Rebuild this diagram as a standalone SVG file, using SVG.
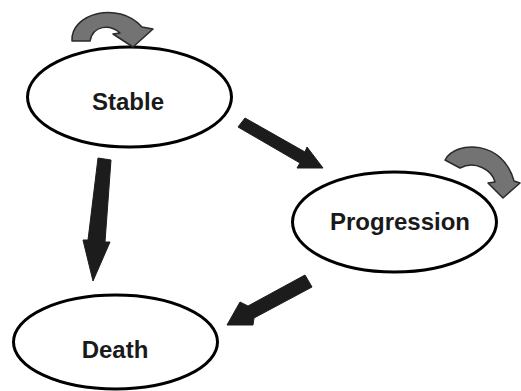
<svg xmlns="http://www.w3.org/2000/svg" width="521" height="391" viewBox="0 0 521 391">
<style>
.node{fill:#fff;stroke:#000;stroke-width:3}
.lbl{font-family:"Liberation Sans",Arial,sans-serif;font-weight:bold;font-size:24px;fill:#1a1a1a;text-anchor:middle}
.arr{fill:#1c1c1c;stroke:#1c1c1c;stroke-width:1;stroke-linejoin:round}
.loop{fill:#737373;stroke:#2a2a2a;stroke-width:1.5;stroke-linejoin:round}
</style>
<rect width="521" height="391" fill="#fff"/>
<g id="stable">
<ellipse class="node" cx="129.5" cy="97" rx="102" ry="50"/>
<text class="lbl" x="128" y="110">Stable</text>
</g>
<g id="progression">
<ellipse class="node" cx="394.5" cy="222" rx="102" ry="50"/>
<text class="lbl" x="400" y="230">Progression</text>
</g>
<g id="death">
<ellipse class="node" cx="115.5" cy="342" rx="102" ry="47"/>
<text class="lbl" x="115" y="358">Death</text>
</g>
<g id="connectors">
<path class="loop" d="M72,41 C70,14 118,0 142,27 L153,29 L133,47 L113,34 L120,33 C110,24 93,25 90,41 Z"/>
<path class="loop" d="M445,160 C456,140 503,140 514,181 L520,183 L503,198 L488,183 L495,182 C492,170 475,160 460,168 Z"/>
<polygon class="arr" points="245,118 305,152 307,147 323,168 297,168 300,163 238,127"/>
<polygon class="arr" points="98,158 111,160 105,242 110,242 93,281 83,240 88,240"/>
<polygon class="arr" points="305,275 312,287 254,318 253,325 227,325 240,302 248,306"/>
</g>
</svg>
